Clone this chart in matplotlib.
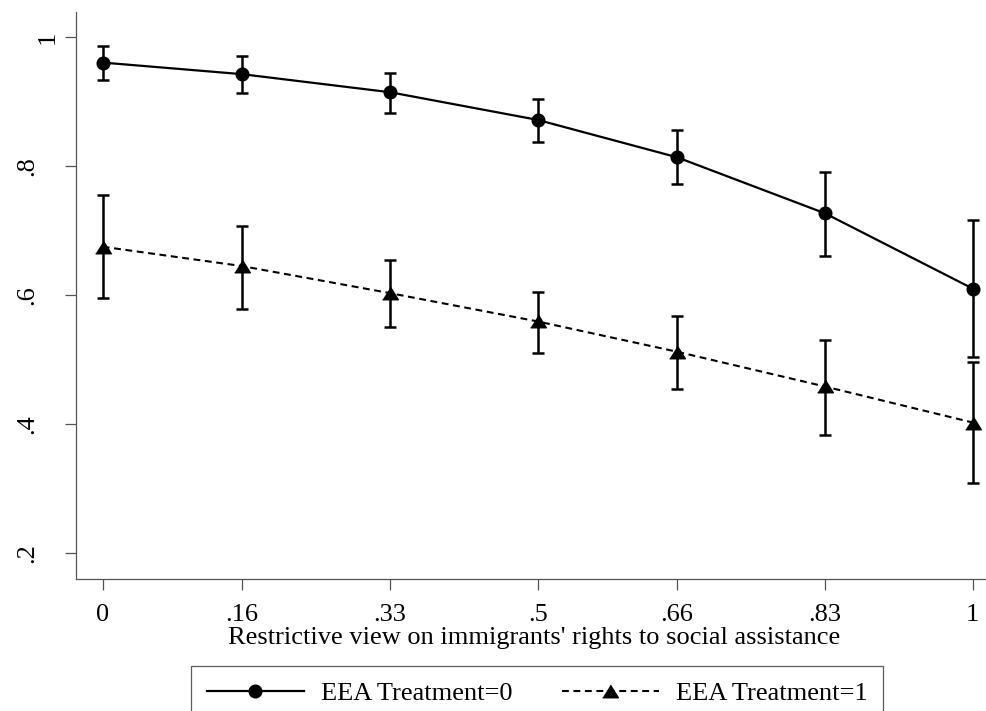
import matplotlib.pyplot as plt
from matplotlib.lines import Line2D

plt.rcParams['font.family'] = ['Liberation Serif', 'DejaVu Serif']

x_vals   = [0, .16, .33, .5, .66, .83, 1]
x_labels = ['0', '.16', '.33', '.5', '.66', '.83', '1']
y_ticks  = [.2, .4, .6, .8, 1]
y_labels = ['.2', '.4', '.6', '.8', '1']

# EEA Treatment=0 (point estimate and CI bounds)
t0_mean = [0.961, 0.943, 0.915, 0.872, 0.814, 0.727, 0.610]
t0_low  = [0.934, 0.914, 0.883, 0.838, 0.772, 0.661, 0.503]
t0_high = [0.986, 0.971, 0.945, 0.905, 0.856, 0.791, 0.716]

# EEA Treatment=1
t1_mean = [0.675, 0.645, 0.603, 0.559, 0.512, 0.458, 0.402]
t1_low  = [0.596, 0.579, 0.550, 0.510, 0.454, 0.383, 0.308]
t1_high = [0.755, 0.707, 0.654, 0.605, 0.567, 0.530, 0.496]

FS      = 19
GREY    = '#555555'
tri     = [(-1, -0.8), (1, -0.8), (0, 0.8)]
dashes  = (0, (3.3, 2.2))

fig = plt.figure(figsize=(9.86, 7.11), dpi=100)
ax  = fig.add_axes((76 / 986, 132 / 711, 910 / 986, 567.3 / 711))

for mean, low, high in [(t0_mean, t0_low, t0_high), (t1_mean, t1_low, t1_high)]:
    yerr = [[m - l for m, l in zip(mean, low)], [h - m for m, h in zip(mean, high)]]
    ax.errorbar(x_vals, mean, yerr=yerr, fmt='none', ecolor='black',
                elinewidth=1.8, capsize=4, capthick=1.8, zorder=2)

ax.plot(x_vals, t0_mean, color='black', lw=1.6, marker='o', ms=9.1, zorder=3)
ax.plot(x_vals, t1_mean, color='black', lw=1.5, ls=dashes, marker=tri, ms=11.3, zorder=3)

ax.set_xlim(-0.0307, 1.0153)
ax.set_ylim(0.159, 1.040)

ax.spines['top'].set_visible(False)
ax.spines['right'].set_visible(False)
for s in ['left', 'bottom']:
    ax.spines[s].set_color(GREY)
    ax.spines[s].set_linewidth(0.9)

ax.set_xticks(x_vals, x_labels)
ax.set_yticks(y_ticks, y_labels, rotation=90, va='center')
ax.tick_params(axis='both', direction='out', length=7.9, width=0.9, color=GREY,
               labelsize=FS)
ax.tick_params(axis='x', pad=10)

# the "1" label sits closer to the axis than the others
for tick, pad in zip(ax.yaxis.get_major_ticks(), [19.5, 19.5, 19.5, 19.5, 4.3]):
    tick.set_pad(pad)

ax.set_xlabel("Restrictive view on immigrants' rights to social assistance",
              fontsize=FS, labelpad=1)
ax.xaxis.label.set_x(0.5035)

h0 = Line2D([], [], color='black', lw=1.6, marker='o', ms=9.1)
h1 = Line2D([], [], color='black', lw=1.5, ls=dashes, marker=tri, ms=11.3)
leg = fig.legend([h0, h1], ['EEA Treatment=0', 'EEA Treatment=1'],
                 loc='upper center', bbox_to_anchor=(537.3 / 986, 1 - 666 / 711),
                 ncol=2, fontsize=FS, frameon=True, fancybox=False, numpoints=1,
                 handlelength=3.7, handletextpad=0.65, columnspacing=1.85,
                 borderpad=0.58, borderaxespad=0)
leg.get_frame().set_edgecolor('#333333')
leg.get_frame().set_linewidth(0.9)

fig.savefig('out.png', dpi=100)
